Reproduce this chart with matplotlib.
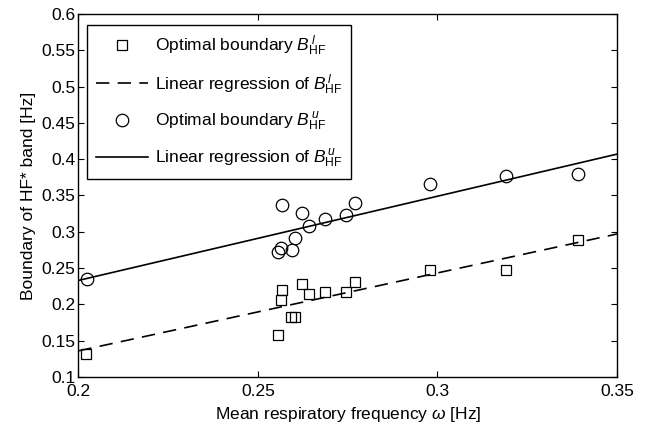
import matplotlib
matplotlib.use("Agg")
import matplotlib.pyplot as plt

plt.rcParams['font.family'] = ['Liberation Sans', 'DejaVu Sans']
plt.rcParams['mathtext.fontset'] = 'custom'
plt.rcParams['mathtext.rm'] = 'Liberation Sans'
plt.rcParams['mathtext.it'] = 'Liberation Sans:italic'
plt.rcParams['font.size'] = 12.5

# respiratory frequency for each subject [Hz]
freq_u = [0.2023, 0.2556, 0.2565, 0.2568, 0.2594, 0.2603, 0.2622, 0.2643,
          0.2687, 0.2746, 0.2769, 0.2979, 0.3192, 0.3390]
# upper boundary of HF band
upper = [0.2345, 0.2721, 0.2772, 0.3373, 0.2753, 0.2918, 0.3255, 0.3080,
         0.3172, 0.3227, 0.3400, 0.3662, 0.3772, 0.3795]

freq_l = [0.2021, 0.2556, 0.2565, 0.2568, 0.2592, 0.2604, 0.2622, 0.2643,
          0.2687, 0.2746, 0.2769, 0.2979, 0.3192, 0.3390]
# lower boundary of HF band
lower = [0.1320, 0.1583, 0.2060, 0.2202, 0.1830, 0.1830, 0.2285, 0.2139,
         0.2170, 0.2175, 0.2304, 0.2469, 0.2469, 0.2887]

# regression lines (end points)
reg_x = [0.2, 0.35]
reg_lower = [0.136, 0.297]
reg_upper = [0.233, 0.407]

xticks = [0.2, 0.25, 0.3, 0.35]
xticklabels = ['0.2', '0.25', '0.3', '0.35']
yticks = [0.1, 0.15, 0.2, 0.25, 0.3, 0.35, 0.4, 0.45, 0.5, 0.55, 0.6]
yticklabels = ['0.1', '0.15', '0.2', '0.25', '0.3', '0.35', '0.4', '0.45', '0.5', '0.55', '0.6']

fig = plt.figure(figsize=(6.49, 4.29), dpi=100)
ax = fig.add_axes([0.1208, 0.1212, 0.8299, 0.8462])

ax.plot(freq_l, lower, 's', color='k', mfc='none', ms=7, mew=0.9,
        label=r'Optimal boundary $B^{\,l}_{\mathrm{HF}}$')
ax.plot(reg_x, reg_lower, '--', color='k', lw=1.2, dashes=(8, 5),
        label=r'Linear regression of $B^{\,l}_{\mathrm{HF}}$')
ax.plot(freq_u, upper, 'o', color='k', mfc='none', ms=9, mew=0.9,
        label=r'Optimal boundary $B^{\,u}_{\mathrm{HF}}$')
ax.plot(reg_x, reg_upper, '-', color='k', lw=1.2,
        label=r'Linear regression of $B^{\,u}_{\mathrm{HF}}$')

ax.set_xlim(0.2, 0.35)
ax.set_ylim(0.1, 0.6)
ax.set_xticks(xticks)
ax.set_xticklabels(xticklabels)
ax.set_yticks(yticks)
ax.set_yticklabels(yticklabels)
ax.tick_params(direction='in', top=True, right=True, length=4, width=0.8)
ax.tick_params(axis='y', pad=2)
ax.tick_params(axis='x', pad=5)
for s in ax.spines.values():
    s.set_linewidth(1.0)

ax.set_xlabel(r'Mean respiratory frequency $\omega$ [Hz]', labelpad=4)
ax.set_ylabel('Boundary of HF* band [Hz]', labelpad=4)

leg = ax.legend(loc='upper left', handlelength=3.0, handletextpad=0.4,
                labelspacing=0.82, borderpad=0.5, borderaxespad=0,
                fancybox=False, edgecolor='k', framealpha=1,
                bbox_to_anchor=(0.016, 0.970))
leg.get_frame().set_linewidth(1.0)

plt.savefig('out.png', dpi=100)
